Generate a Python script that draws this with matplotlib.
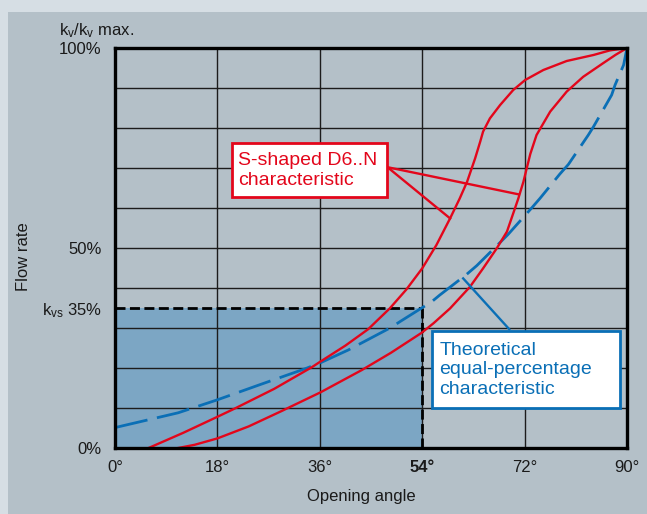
import matplotlib
matplotlib.use("Agg")
import matplotlib.pyplot as plt
from matplotlib.patches import Rectangle

plt.rcParams['font.family'] = ['Liberation Sans', 'DejaVu Sans']
plt.rcParams['mathtext.fontset'] = 'custom'
plt.rcParams['mathtext.rm'] = 'Liberation Sans'
plt.rcParams['mathtext.default'] = 'regular'

# values (degrees, % of kv max)
angle_ticks = [0, 18, 36, 54, 72, 90]
angle_labels = ['0°', '18°', '36°', '54°', '72°', '90°']
flow_ticks = [0, 10, 20, 30, 40, 50, 60, 70, 80, 90, 100]
flow_labels = ['0%', '', '', '', '', '50%', '', '', '', '', '100%']

kvs_angle = 54
kvs_flow = 35

# theoretical equal-percentage curve
eq_angle = [0, 11.1, 17.9, 25.8, 33.4, 36.1, 41, 48.6, 50.1, 55.7, 57.1, 61.8,
            63.6, 67.7, 69.1, 73.3, 74.7, 78.2, 79.7, 83.2, 84.1, 87.3, 87.9,
            89.4, 90]
eq_flow = [5.1, 8.8, 12, 16, 19.8, 21.3, 24.5, 30.2, 31.6, 36.6, 38.25, 43.4,
           45.6, 51.4, 53.4, 60.1, 62.4, 68.5, 70.9, 78.25, 80.3, 88.25, 90.75,
           95.75, 100]

# S-shaped D6..N, upper branch
s1_angle = [5.9, 12, 18, 21.1, 28, 34.6, 36.1, 40.5, 44.5, 48.3, 51.2, 54,
            56.5, 58.9, 60.6, 61.9, 62.6, 63.3, 64.2, 64.7, 65.9, 67.7, 70,
            72.1, 75.3, 79.4, 84.1, 87, 90]
s1_flow = [0, 3.8, 7.8, 9.9, 14.8, 20.2, 21.6, 25.6, 29.7, 34.9, 39.6, 44.9,
           50.75, 57.4, 62.4, 66.6, 69.5, 72.4, 76.6, 79.1, 82.4, 85.75, 89.5,
           92, 94.5, 96.75, 98.25, 99.4, 100]

# S-shaped D6..N, lower branch
s2_angle = [11.1, 14, 18, 23.5, 29.3, 36.1, 43.4, 48.5, 53.9, 56, 58.9, 62.4,
            64.7, 67.1, 68.9, 70.3, 70.9, 71.8, 72.3, 73, 74.1, 76.5, 79.4,
            82.3, 85.8, 88, 90]
s2_flow = [0, 0.8, 2.4, 5.4, 9.25, 13.9, 19.5, 23.8, 28.8, 31.2, 34.9, 40.3,
           44.9, 49.9, 54.1, 59.9, 62.4, 66.6, 69.5, 73.5, 78.25, 84.1, 89.1,
           92.8, 96.2, 98.3, 100]

RED = '#e3061b'
BLUE = '#0a6fb6'
PANEL = '#b4c0c8'
TXT = '#1a1a1a'

fig = plt.figure(figsize=(6.47, 5.14), dpi=100)
fig.patch.set_facecolor('#d6dee4')
fig.add_artist(Rectangle((8 / 647, 0), 1, 1 - 12 / 514, transform=fig.transFigure,
                         facecolor=PANEL, edgecolor='none', zorder=0))

ax = fig.add_axes([115 / 647, 1 - 448 / 514, 512 / 647, 400 / 514])
ax.set_facecolor(PANEL)
ax.set_xlim(0, 90)
ax.set_ylim(0, 100)

ax.set_xticks(angle_ticks)
ax.set_xticklabels(angle_labels)
ax.set_yticks(flow_ticks)
ax.set_yticklabels(flow_labels)
ax.set_yticks([kvs_flow], minor=True)
ax.set_yticklabels([r'k$_{vs}$ 35%'], minor=True)
ax.tick_params(which='both', length=0, labelsize=12, labelcolor=TXT)
ax.tick_params(axis='x', pad=9)
ax.tick_params(axis='y', which='both', pad=9.5)
ax.get_xticklabels()[3].set_fontweight('bold')
ax.grid(True, which='major', color='#1c1c1c', linewidth=1.0, zorder=1)
ax.set_axisbelow(True)
for sp in ax.spines.values():
    sp.set_linewidth(2.4)
    sp.set_color('black')
    sp.set_zorder(6)

# kvs area
ax.fill_between([0, kvs_angle], 0, kvs_flow, color='#7ca6c4', zorder=0.5, lw=0)
ax.plot([0, kvs_angle], [kvs_flow, kvs_flow], color='black', lw=2,
        ls=(0, (3.6, 1.6)), zorder=3)
ax.plot([kvs_angle, kvs_angle], [0, kvs_flow], color='black', lw=2,
        ls=(0, (3.6, 1.6)), zorder=3)

ax.plot(eq_angle, eq_flow, color=BLUE, lw=2, ls=(0, (12, 3.5)), zorder=4)
ax.plot(s1_angle, s1_flow, color=RED, lw=1.7, zorder=4)
ax.plot(s2_angle, s2_flow, color=RED, lw=1.7, zorder=4)

# red callout
ax.plot([47.9, 58.9], [70.2, 57.4], color=RED, lw=1.7, zorder=4)
ax.plot([47.9, 71.0], [70.2, 63.4], color=RED, lw=1.7, zorder=4)
ax.add_patch(Rectangle((20.5, 62.8), 27.4, 13.5, facecolor='white',
                       edgecolor=RED, lw=2, zorder=5))
ax.text(21.7, 69.4, 'S-shaped D6..N\ncharacteristic', color=RED, fontsize=14,
        ha='left', va='center', linespacing=1.22, zorder=6)

# blue callout
ax.plot([69.3, 61.2], [29.7, 42.4], color=BLUE, lw=1.7, zorder=4)
ax.add_patch(Rectangle((55.8, 9.9), 33.0, 19.4, facecolor='white',
                       edgecolor=BLUE, lw=2, zorder=5))
ax.text(57.0, 19.5, 'Theoretical\nequal-percentage\ncharacteristic', color=BLUE,
        fontsize=14, ha='left', va='center', linespacing=1.22, zorder=6)

fig.text(59 / 647, 1 - 31 / 514, r'k$_v$/k$_v$ max.', fontsize=12, color=TXT,
         ha='left', va='center')
fig.text(23 / 647, 1 - 257 / 514, 'Flow rate', fontsize=12, color=TXT,
         rotation=90, ha='center', va='center')
fig.text(361 / 647, 1 - 496 / 514, 'Opening angle', fontsize=12, color=TXT,
         ha='center', va='center')

fig.savefig('out.png', dpi=100, facecolor=fig.get_facecolor())
